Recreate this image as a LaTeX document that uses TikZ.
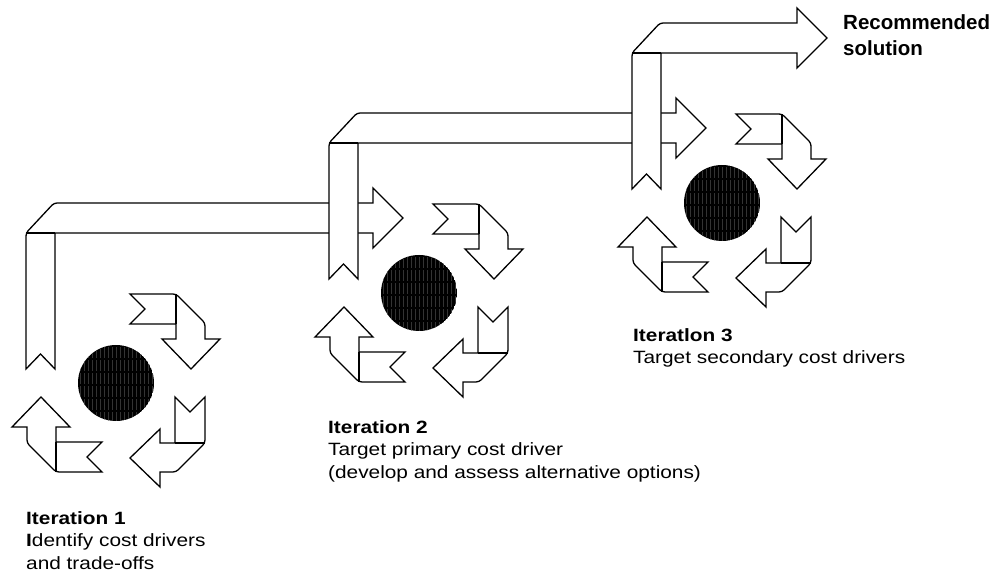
\documentclass[tikz,border=0pt]{standalone}
\usepackage{fontspec}
\setmainfont{Liberation Sans}
\usepackage{graphicx}
\begin{document}
\begin{tikzpicture}[x=1pt,y=1pt,
  outl/.style={draw=black, fill=white, line width=1.3pt, miter limit=10},
  edgeline/.style={draw=black, line width=1.3pt},
  lbl/.style={anchor=north west, inner sep=0pt, align=left},
  turnarrow/.pic={
    \filldraw[outl] (29,74) -- (14,89) [rounded corners=3pt] -- (60,89) -- (89,60)
      [sharp corners] -- (89,44) -- (104,44) -- (75,14) -- (46,44) -- (60,44)
      -- (60,59) -- (14,59) -- cycle;
    \draw[edgeline] (60,89) -- (60,59);
  },
  hatchdisc/.pic={
    \begin{scope}
      \clip (0,0) circle (38);
      \fill[black] (0,0) circle (38);
      \foreach \i in {-36,-32,...,36}
        \draw[gray!40!black, line width=0.6pt, dash pattern=on 11pt off 2pt] (\i,-40) -- (\i,40);
    \end{scope}
  }]
\useasboundingbox (0,0) rectangle (996,579);
\coordinate (c1) at (116,196);
\coordinate (c2) at (419,286);
\coordinate (c3) at (722,376);

% banners
\begin{scope}[shift={(c1)}]
  \filldraw[outl] (-61,14) -- (-75.5,29) -- (-90,14) [rounded corners=3pt] -- (-90,150) -- (-62,180)
    [sharp corners] -- (257,180) -- (257,195) -- (287,165) -- (257,135) -- (257,150) -- (-61,150) -- cycle;
  \draw[edgeline] (-61,150) -- (-90,150);
\end{scope}
\begin{scope}[shift={(c2)}]
  \filldraw[outl] (-61,14) -- (-75.5,29) -- (-90,14) [rounded corners=3pt] -- (-90,150) -- (-62,180)
    [sharp corners] -- (257,180) -- (257,195) -- (287,165) -- (257,135) -- (257,150) -- (-61,150) -- cycle;
  \draw[edgeline] (-61,150) -- (-90,150);
\end{scope}
\begin{scope}[shift={(c3)}]
  \filldraw[outl] (-61,14) -- (-75.5,29) -- (-90,14) [rounded corners=3pt] -- (-90,150) -- (-62,180)
    [sharp corners] -- (75,180) -- (75,195) -- (105,165) -- (75,135) -- (75,150) -- (-61,150) -- cycle;
  \draw[edgeline] (-61,150) -- (-90,150);
\end{scope}

% cycles
\foreach \c in {c1,c2,c3} {
  \pic at (\c) {turnarrow};
  \pic[rotate=-90] at (\c) {turnarrow};
  \pic[rotate=180] at (\c) {turnarrow};
  \pic at (\c) {hatchdisc};
}

% labels
\node[lbl] (t1) at (26,70.9) {\scalebox{1.17}[1]{\fontsize{17.8}{22.75}\selectfont\begin{tabular}{@{}l@{}}\textbf{Iteration 1}\\ \textbf{I}dentify cost drivers\\ and trade-offs\end{tabular}}};
\node[lbl] (t2) at (328,161.9) {\scalebox{1.17}[1]{\fontsize{17.8}{22.75}\selectfont\begin{tabular}{@{}l@{}}\textbf{Iteration 2}\\ Target primary cost driver\\ (develop and assess alternative options)\end{tabular}}};
\node[lbl] (t3) at (633,253.9) {\scalebox{1.17}[1]{\fontsize{17.8}{22.75}\selectfont\begin{tabular}{@{}l@{}}\textbf{Iteratlon 3}\\ Target secondary cost drivers\end{tabular}}};
\node[lbl] (rec) at (843,567.5) {\fontsize{20.5}{25.5}\selectfont\begin{tabular}{@{}l@{}}\textbf{Recommended}\\ \textbf{solution}\end{tabular}};
\end{tikzpicture}
\end{document}
